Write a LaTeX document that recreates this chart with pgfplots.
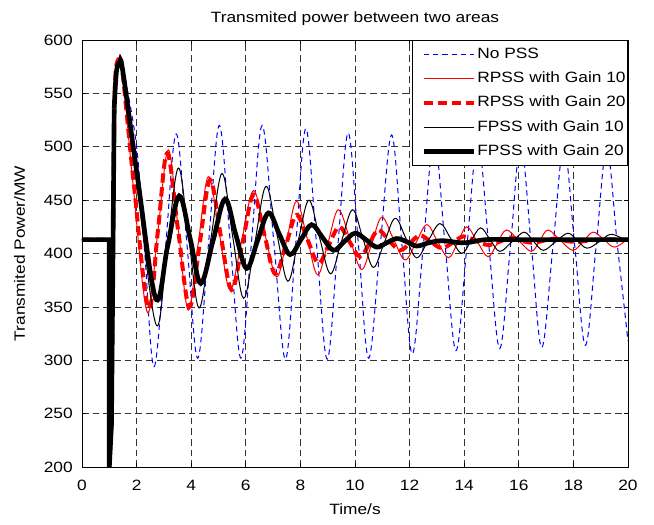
\documentclass[border=0pt]{standalone}
\usepackage{fontspec}
\setmainfont[FakeStretch=1.16]{Liberation Sans}
\usepackage{pgfplots}
\pgfplotsset{compat=1.18}

\begin{document}
\fontsize{11.2}{13.4}\selectfont
\begin{tikzpicture}

\begin{axis}[
scale only axis,
width=409.5pt, height=320.25pt,
xmin=0, xmax=20, ymin=200, ymax=600,
xtick={0,2,...,20}, ytick={200,250,...,600},
/pgf/number format/assume math mode=true,
tick align=inside, tick pos=both,
major tick length=3pt,
axis line style={black, line width=0.6pt},
every tick/.style={black, line width=0.5pt},
grid=major,
major grid style={black!80, line width=0.5pt, dash pattern=on 5pt off 3pt},
xticklabel style={yshift=-6pt},
yticklabel style={xshift=-3pt},
title={Transmited power between two areas},
title style={at={(axis description cs:0.5,1.0234)}, anchor=base},
xlabel={Time/s},
xlabel style={at={(axis description cs:0.5,-0.1124)}, anchor=base},
ylabel={Transmited Power/MW},
ylabel style={at={(axis description cs:-0.1044,0.5)}, anchor=base},
legend style={at={(1,1)}, anchor=north east, draw=black, fill=white,
  line width=0.6pt, row sep=3pt, inner xsep=0.5pt, inner ysep=3pt,
  nodes={inner xsep=1pt, inner ysep=2pt, text height=0.75em, text depth=0.25em}},
legend cell align=left,
legend image code/.code={\path (0pt,0pt);
  \draw[#1] plot coordinates {(6pt,0pt) (24.75pt,0pt) (43.5pt,0pt)};},
]

% pre-fault step and fault drop
\addplot [blue, line width=0.75pt, dash pattern=on 4pt off 3pt, forget plot]
coordinates {(0,413) (1,413) (1,200) (1.08,240) (1.18,536)};
\addplot [blue, line width=0.75pt, dash pattern=on 4pt off 3pt, smooth, tension=0.6]
coordinates {
(1.18,536) (1.26,574) (1.37,583) (1.5,574) (2.0,500) (2.3,400) (2.64,294)
(3.05,403) (3.45,512) (3.85,407) (4.24,302) (4.64,411) (5.03,520)
(5.43,411) (5.82,302) (6.21,411) (6.6,520) (7.03,410) (7.45,301)
(7.83,409) (8.2,517) (8.59,409) (8.98,301) (9.37,407) (9.75,513)
(10.13,407) (10.5,302) (10.92,406) (11.34,511) (11.72,408) (12.1,306)
(12.5,407) (12.9,508) (13.3,408) (13.7,309) (14.1,407) (14.5,505)
(14.9,408) (15.3,311) (15.69,406) (16.07,502) (16.46,407) (16.84,312)
(17.25,406) (17.65,500) (18.05,407) (18.44,314) (18.83,406) (19.22,498)
(19.61,408) (20,318)
};
\addlegendentry{No PSS}

\addplot [red, line width=0.75pt, forget plot]
coordinates {(0,413) (1,413) (1,200) (1.08,240) (1.18,536)};
\addplot [red, line width=0.75pt, smooth, tension=0.6]
coordinates {
(1.18,536) (1.24,572) (1.35,583) (1.47,574) (1.87,465) (2.39,345) (2.78,421)
(3.16,497) (3.53,422) (3.89,347) (4.26,410) (4.63,472) (5.03,419)
(5.42,366) (5.85,412) (6.28,459) (6.7,418) (7.13,378) (7.5,413)
(7.86,449) (8.25,414) (8.63,380) (9.01,410) (9.39,441) (9.82,413)
(10.24,385) (10.61,409) (10.98,434) (11.4,414) (11.83,394) (12.23,410)
(12.63,427) (13.03,411) (13.42,396) (13.76,410) (14.09,425) (14.48,411)
(14.87,397) (15.2,409) (15.54,422) (16.0,412) (16.46,402) (16.77,412)
(17.07,422) (17.53,412) (17.98,403) (18.35,411) (18.72,420) (19.12,413)
(19.51,406) (20,414)
};
\addlegendentry{RPSS with Gain 10}

\addplot [red, line width=3pt, dash pattern=on 7pt off 3.5pt, forget plot]
coordinates {(0,413) (1,413) (1,200) (1.08,240) (1.18,536)};
\addplot [red, line width=3pt, dash pattern=on 7pt off 3.5pt, smooth, tension=0.6]
coordinates {
(1.18,536) (1.24,572) (1.35,582) (1.47,573) (1.89,467) (2.43,349) (2.78,421)
(3.12,494) (3.52,422) (3.93,350) (4.31,409) (4.69,469) (5.08,417)
(5.48,366) (5.88,410) (6.28,455) (6.68,418) (7.07,381) (7.47,408)
(7.86,436) (8.26,413) (8.66,391) (9.04,408) (9.42,425) (9.8,411)
(10.18,397) (10.52,409) (10.85,422) (11.25,412) (11.65,403) (12.02,410)
(12.38,417) (12.78,411) (13.17,405) (13.57,410) (13.97,416) (14.42,412)
(14.87,408) (15.29,411) (15.7,415) (16.1,412) (16.5,410) (16.9,412)
(17.3,414) (17.7,412) (18.1,411) (19,413) (20,413)
};
\addlegendentry{RPSS with Gain 20}

\addplot [black, line width=0.75pt, forget plot]
coordinates {(0,413) (1,413) (1,200) (1.08,240) (1.18,536)};
\addplot [black, line width=0.75pt, smooth, tension=0.6]
coordinates {
(1.18,536) (1.26,570) (1.38,579) (1.5,570) (2.05,457) (2.72,333) (3.12,406)
(3.53,480) (3.91,414) (4.29,349) (4.71,412) (5.13,475) (5.52,416)
(5.92,358) (6.33,410) (6.74,463) (7.14,418) (7.54,374) (7.92,412)
(8.31,450) (8.7,415) (9.1,381) (9.5,411) (9.91,441) (10.29,414)
(10.67,387) (11.07,410) (11.47,433) (11.87,414) (12.26,396) (12.68,412)
(13.11,428) (13.51,414) (13.91,400) (14.25,412) (14.6,424) (14.95,413)
(15.3,402) (15.75,411) (16.2,420) (16.55,411) (16.9,403) (17.35,411)
(17.8,419) (18.15,412) (18.5,405) (18.95,411) (19.39,418) (20,411)
};
\addlegendentry{FPSS with Gain 10}

\addplot [black, line width=3.5pt, forget plot]
coordinates {(0,413) (1,413) (1,200) (1.08,240) (1.18,536)};
\addplot [black, line width=3.5pt, smooth, tension=0.6]
coordinates {
(1.18,536) (1.26,570) (1.38,579) (1.5,570) (2.04,470) (2.70,358) (3.13,406)
(3.56,454) (3.97,413) (4.35,372) (4.8,412) (5.24,451) (5.63,418)
(6.03,386) (6.43,412) (6.83,438) (7.23,418) (7.62,399) (8.02,413)
(8.41,427) (8.81,415) (9.21,403) (9.6,411) (10.0,419) (10.4,413)
(10.79,406) (11.16,410) (11.53,414) (11.9,411) (12.26,407) (12.7,410)
(13.2,412) (14,410) (14.8,413) (16,413) (18,413) (20,413)
};
\addlegendentry{FPSS with Gain 20}

\end{axis}

\pgfresetboundingbox
\path[use as bounding box] (-61.5pt,-43.5pt) rectangle (429pt,350.25pt);

\end{tikzpicture}
\end{document}
